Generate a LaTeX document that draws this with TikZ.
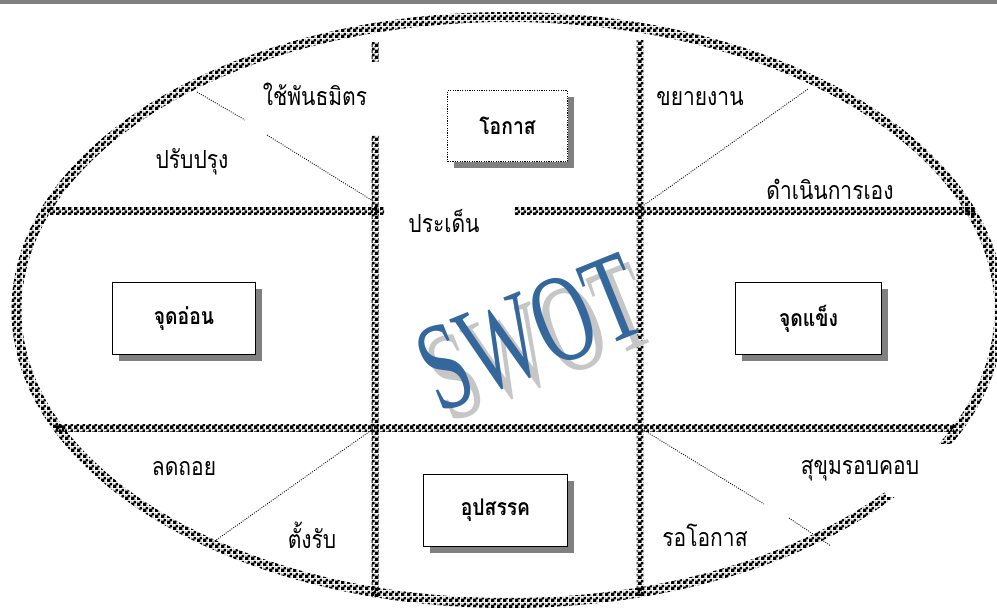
\documentclass[tikz,border=0pt]{standalone}
\usepackage{fontspec}
\usepackage{graphicx}
\newfontfamily\thaifont[Script=Thai, FakeStretch=0.84]{Loma}
\newfontfamily\swotfont{Liberation Serif}
\usetikzlibrary{patterns.meta,shadows}
\definecolor{swotblue}{RGB}{52,103,156}
\definecolor{shadowgray}{RGB}{128,128,128}
\tikzdeclarepattern{
  name=finechecker,
  type=uncolored,
  bounding box={(0pt,0pt) and (5.6pt,5.6pt)},
  tile size={(5.6pt,5.6pt)},
  code={
    \fill (0pt,0pt) rectangle (3.5pt,3.5pt);
    \fill (2.8pt,2.8pt) rectangle (5.6pt,5.6pt);
    \fill (0pt,5pt) rectangle (0.7pt,5.6pt);
    \fill (5pt,0pt) rectangle (5.6pt,0.7pt);
  }
}
\tikzset{
  band/.style={pattern=finechecker, pattern color=black},
  dotline/.style={line width=0.9pt, dash pattern=on 0.9pt off 1.4pt},
  lbl/.style={font=\thaifont\fontsize{25}{28}\selectfont, inner sep=1pt},
  boxlbl/.style={draw, line width=1.8pt, fill=white, inner sep=0pt,
    font=\thaifont\bfseries\fontsize{23}{26}\selectfont,
    drop shadow={shadow xshift=6pt, shadow yshift=-6pt, fill=shadowgray, opacity=1}},
  swotstyle/.style={font=\swotfont\fontsize{126}{126}\selectfont, inner sep=0pt}
}
\begin{document}
\begin{tikzpicture}[x=1pt,y=-1pt]
\useasboundingbox (0,0) rectangle (997,608);
% top gray bar
\fill[shadowgray] (0,0) rectangle (997,4);
% ellipse band
\fill[band, even odd rule] (508,310) ellipse [x radius=496.5, y radius=298]
                            (508,310) ellipse [x radius=486.5, y radius=288];
% gap in ellipse at lower right
\fill[white] (886,444) rectangle (1000,497);
% vertical bands
\fill[band] (371.5,42) rectangle (378.5,61);
\fill[band] (371.5,135) rectangle (378.5,597);
\fill[band] (636.5,40) rectangle (643.5,595);
% horizontal bands
\fill[band] (48,207) rectangle (384,214);
\fill[band] (514,207) rectangle (975,214);
\fill[band] (55,424) rectangle (954,431);
% dotted diagonals
\coordinate (tla) at (197,92);  \coordinate (tlb) at (245,120);
\coordinate (tlc) at (267,135); \coordinate (tld) at (373,201);
\coordinate (tra) at (640,208); \coordinate (trb) at (808,89);
\coordinate (bla) at (373,429); \coordinate (blb) at (212,543);
\coordinate (bra) at (642,429); \coordinate (brb) at (764,504);
\coordinate (brc) at (789,518); \coordinate (brd) at (831,546);
\draw[dotline] (tla) -- (tlb);
\draw[dotline] (tlc) -- (tld);
\draw[dotline] (tra) -- (trb);
\draw[dotline] (bla) -- (blb);
\draw[dotline] (bra) -- (brb);
\draw[dotline] (brc) -- (brd);
% boxes
\node[boxlbl, minimum width=120pt, minimum height=71pt, dash pattern=on 1.2pt off 1.2pt, line width=1.5pt] (opp) at (507.5,126) {โอกาส};
\node[boxlbl, minimum width=143pt, minimum height=72pt] (weak) at (184,318.5) {จุดอ่อน};
\node[boxlbl, minimum width=146pt, minimum height=72pt] (strong) at (808.5,318.5) {จุดแข็ง};
\node[boxlbl, minimum width=144pt, minimum height=72pt] (threat) at (495.5,510.5) {อุปสรรค};
% SWOT word art
\node[swotstyle, text=gray!45, rotate=22] (swotsh) at (540,343) {\scalebox{0.64}[1]{SWOT}};
\node[swotstyle, text=swotblue, rotate=22] (swot) at (530,333) {\scalebox{0.64}[1]{SWOT}};
% labels
\node[lbl] (l1) at (315,94) {ใช้พันธมิตร};
\node[lbl] (l2) at (192,162) {ปรับปรุง};
\node[lbl] (l3) at (444,221) {ประเด็น};
\node[lbl] (l4) at (700,99) {ขยายงาน};
\node[lbl] (l5) at (830,189) {ดำเนินการเอง};
\node[lbl] (l6) at (184,469) {ลดถอย};
\node[lbl] (l7) at (312,535) {ตั้งรับ};
\node[lbl] (l8) at (860,470) {สุขุมรอบคอบ};
\node[lbl] (l9) at (705,535) {รอโอกาส};
\end{tikzpicture}
\end{document}
